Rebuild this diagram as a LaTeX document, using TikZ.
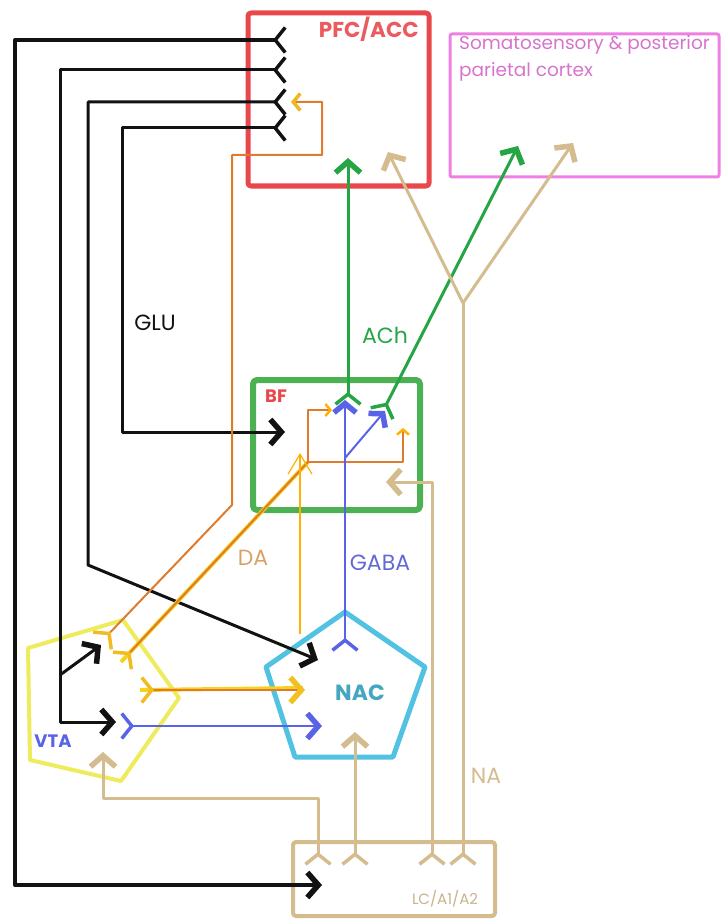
\documentclass[tikz,border=0pt]{standalone}
\usepackage{fontspec}
\setmainfont{Poppins}
\usetikzlibrary{arrows.meta}
\definecolor{pfcred}{HTML}{E8484C}
\definecolor{sscpink}{HTML}{EE80E4}
\definecolor{bfgreen}{HTML}{4CB152}
\definecolor{achgreen}{HTML}{26A546}
\definecolor{vtayel}{HTML}{EEEB5C}
\definecolor{naccyan}{HTML}{52C2E2}
\definecolor{gabablue}{HTML}{5963E8}
\definecolor{natan}{HTML}{D4BC8E}
\definecolor{daorange}{HTML}{DE7B2C}
\definecolor{dayel}{HTML}{F6D21E}
\definecolor{daamber}{HTML}{FFB000}
\definecolor{glublack}{HTML}{121212}
\tikzset{
  Hd/.tip={Straight Barb[length=11pt,width=25pt,line width=5.5pt]},
  Fk/.tip={Straight Barb[reversed,length=10pt,width=25pt,line width=3.5pt]},
  lbl/.style={font=\fontsize{22}{24}\selectfont, inner sep=0pt},
  glu/.style={glublack, line width=3pt},
  ach/.style={achgreen, line width=3pt},
  gaba/.style={gabablue, line width=2pt},
  na/.style={natan, line width=3pt},
  da/.style={daorange, line width=2pt},
  dahi/.style={dayel, line width=4pt},
}
\begin{document}
\begin{tikzpicture}[x=1pt, y=-1pt, line join=round]
\useasboundingbox (0,0) rectangle (723,920);

% regions
\node[draw=pfcred, line width=5pt, rounded corners=3pt, minimum width=181pt, minimum height=173pt, inner sep=0] (pfc) at (338.5,99.5) {};
\node[draw=sscpink, line width=3pt, rounded corners=2pt, minimum width=269pt, minimum height=143pt, inner sep=0] (ssc) at (584.5,105.5) {};
\node[draw=bfgreen, line width=6pt, rounded corners=4pt, minimum width=167pt, minimum height=130pt, inner sep=0] (bf) at (336.5,445) {};
\node[draw=natan, line width=4pt, rounded corners=3pt, minimum width=202pt, minimum height=74pt, inner sep=0] (lc) at (394,879) {};
\draw[vtayel, line width=4pt] (28,648) -- (123,620) -- (179,698) -- (121,781) -- (30,760) -- cycle;
\draw[naccyan, line width=5pt] (345,612) -- (425,667) -- (393,757) -- (295,757) -- (266,667) -- cycle;

% labels
\node[lbl, font=\fontsize{21.5}{24}\selectfont\bfseries, text=pfcred!90!white, anchor=east] (pfcl) at (419,29) {PFC/ACC};
\node[lbl, font=\fontsize{18.5}{27}\selectfont, text=sscpink!90!black, anchor=north west, align=left] (sscl) at (459,35) {Somatosensory \& posterior\\parietal cortex};
\node[lbl, font=\fontsize{18}{20}\selectfont\bfseries, text=pfcred] (bfl) at (276,396) {BF};
\node[lbl, font=\fontsize{22}{24}\selectfont\bfseries, text=naccyan!85!black] (nacl) at (360,693) {NAC};
\node[lbl, font=\fontsize{18}{20}\selectfont\bfseries, text=gabablue] (vtal) at (53,741) {VTA};
\node[lbl, font=\fontsize{15}{17}\selectfont, text=natan!85!gray] (lcl) at (445,899) {LC/A1/A2};
\node[lbl, text=glublack] (glul) at (155,323) {GLU};
\node[lbl, text=achgreen] (achl) at (385,335) {ACh};
\node[lbl, text=daorange!40!natan] (dal) at (253,558) {DA};
\node[lbl, text=gabablue!80!gray] (gabal) at (380,563) {GABA};
\node[lbl, text=natan] (nal) at (486,776) {NA};

% end points
\coordinate (pfc1) at (287,40);
\coordinate (pfc2) at (287,70);
\coordinate (pfc3) at (287,102);
\coordinate (pfc4) at (287,128);
\coordinate (lcin) at (322,885);
\coordinate (vtain) at (116,722);
\coordinate (vtain2) at (101,645);
\coordinate (nacin) at (318,660);
\coordinate (bfin) at (285,432);

% GLU
\draw[glu, line width=4pt, Fk-Hd] (pfc1) -- (15,40) -- (15,885) -- (lcin);
\draw[glu, Fk-Hd] (pfc2) -- (60,70) -- (60,722) -- (vtain);
\draw[glu, -Hd] (60,675) -- (vtain2);
\draw[glu, Fk-Hd] (pfc3) -- (88,102) -- (88,565) -- (nacin);
\draw[glu, Fk-Hd] (pfc4) -- (122,128) -- (122,432) -- (bfin);

% DA
\coordinate (daa) at (101,642);
\coordinate (dab) at (121,662);
\coordinate (dac) at (140,690);
\coordinate (dasplit) at (308,462);
\draw[dahi, shift={(2pt,1pt)}] (dab) -- (dasplit);
\draw[dahi, shift={(0pt,2pt)}] (dac) -- (303,690);
\draw[da, {Fk[dayel!75!daorange]}-{Hd[length=7pt,width=17pt,line width=3.5pt,dayel!70!daorange]}]
  (daa) -- (232,505) -- (232,155) -- (322,155) -- (322,102) -- (291,102);
\draw[da, {Fk[dayel!75!daorange]}-] (dab) -- (dasplit);
\draw[da, -{Hd[length=5pt,width=12pt,line width=2.5pt,daamber]}] (dasplit) -- (308,410) -- (332,410);
\draw[da, -{Hd[length=5pt,width=12pt,line width=2.5pt,daamber]}] (dasplit) -- (403,462) -- (403,428);
\draw[da, {Fk[dayel!75!daorange]}-{Hd[dayel!80!daorange]}] (dac) -- (305,690);
\draw[daamber, line width=1.2pt, -{Straight Barb[length=20pt,width=24pt,line width=1.2pt]}] (300,634) -- (300,453);

% GABA
\coordinate (gsplit) at (345,458);
\draw[gaba, Fk-] (345,652) -- (gsplit);
\draw[gaba, -{Hd[length=9pt,width=22pt]}] (gsplit) -- (345,400);
\draw[gaba, -{Hd[length=9pt,width=22pt]}] (gsplit) -- (385,411);
\draw[gaba, Fk-Hd] (120,726) -- (322,726);

% ACh
\draw[ach, Fk-Hd] (348,406) -- (348,158);
\draw[ach, Fk-Hd] (381,415) -- (518,146);

% NA
\coordinate (nasplit) at (463,303);
\draw[na, Fk-Hd] (318,866) -- (318,798) -- (103,798) -- (103,752);
\draw[na, Fk-Hd] (355,866) -- (355,732);
\draw[na, Fk-Hd] (432,866) -- (432,482) -- (386,482);
\draw[na, Fk-] (463,866) -- (nasplit);
\draw[na, -Hd] (nasplit) -- (388,152);
\draw[na, -Hd] (nasplit) -- (573,143);
\end{tikzpicture}
\end{document}
